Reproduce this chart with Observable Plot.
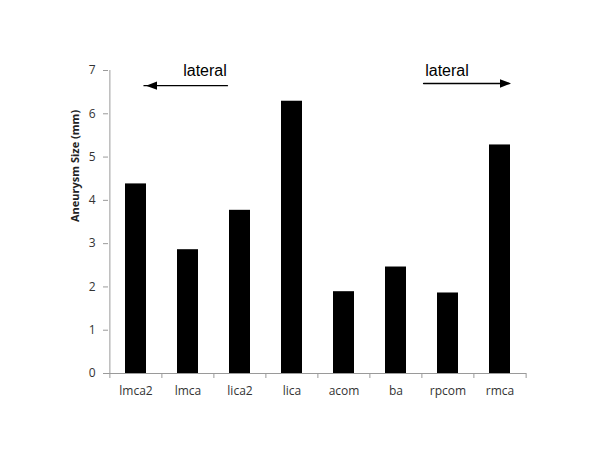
<!DOCTYPE html>
<html>
<head>
<meta charset="utf-8">
<script src="https://cdn.jsdelivr.net/npm/d3@7"></script>
<script src="https://cdn.jsdelivr.net/npm/@observablehq/plot@0.6"></script>
<style>
  html, body { margin: 0; padding: 0; background: #fff; }
  #chart svg { display: block; }
</style>
</head>
<body>
<div id="chart"></div>
<script>
const categories = ["lmca2", "lmca", "lica2", "lica", "acom", "ba", "rpcom", "rmca"];
const sizes = [4.38, 2.86, 3.77, 6.29, 1.89, 2.46, 1.86, 5.28];
const yTicks = [0, 1, 2, 3, 4, 5, 6, 7];
const yTitle = "Aneurysm Size (mm)";
const arrowLabels = ["lateral", "lateral"];
const arrowFrom = ["lica2", "ba"];
const arrowTo = ["lmca2", "rmca"];
const labelAt = ["lmca", "rpcom"];
const arrowLevel = [6.65, 6.70];
const labelLevel = 6.98;

const data = categories.map((c, i) => ({cat: c, size: sizes[i]}));
const arrows = arrowFrom.map((f, i) => ({from: f, to: arrowTo[i], y: arrowLevel[i], label: arrowLabels[i], at: labelAt[i]}));

const W = 600, H = 467, ML = 108, MR = 74, MT = 70, MB = 94;
const step = (W - ML - MR) / categories.length;
const pxPerUnit = (H - MT - MB) / 7;
const tickLen = 5 / pxPerUnit;
const axisColor = "#9a9a9a";

const head = {
  draw(ctx, l) {
    ctx.moveTo(0, -l);
    ctx.lineTo(-4.2, 0);
    ctx.lineTo(4.2, 0);
    ctx.closePath();
  }
};

const chart = Plot.plot({
  width: W, height: H,
  marginLeft: ML, marginRight: MR, marginTop: MT, marginBottom: MB,
  style: {fontFamily: "'Open Sans', sans-serif", fontSize: "12px", color: "#333", background: "#fff"},
  x: {domain: categories, paddingInner: 0.6, paddingOuter: 0.3, label: null},
  y: {domain: [0, 7], label: null},
  marks: [
    Plot.barY(data, {x: "cat", y: "size", fill: "black"}),
    // y-axis line
    Plot.ruleX([categories[0]], {x: d => d, y1: 0, y2: 7, dx: -step / 2, stroke: axisColor}),
    // x-axis line
    Plot.ruleY([0], {stroke: axisColor}),
    // x ticks at band boundaries
    Plot.ruleX(categories, {x: d => d, y1: 0, y2: -tickLen, dx: -step / 2, stroke: axisColor}),
    Plot.ruleX([categories[categories.length - 1]], {x: d => d, y1: 0, y2: -tickLen, dx: step / 2, stroke: axisColor}),
    Plot.axisY({ticks: yTicks, tickSize: 5, tickPadding: 8, stroke: axisColor, label: null, tickFormat: d3.format("d"), fill: "#333", fontSize: 12}),
    Plot.axisX({tickSize: 0, tickPadding: 13, label: null, fill: "#333", fontSize: 12}),
    Plot.text([yTitle], {frameAnchor: "left", rotate: -90, dx: -33, fontWeight: "bold", fontSize: 11, fill: "#222"}),
    // left arrow
    Plot.arrow([arrows[0]], {x1: "from", x2: "to", y1: "y", y2: "y", headLength: 0, insetStart: 12.6, insetEnd: 8, strokeWidth: 1.4, stroke: "black"}),
    Plot.vector([arrows[0]], {x: "to", y: "y", dx: 10, rotate: -90, length: 11, anchor: "end", shape: head, fill: "black", stroke: "none"}),
    Plot.text([arrows[0]], {x: "at", y: () => labelLevel, text: "label", dx: 17, fontFamily: "'Liberation Sans', Arial, sans-serif", fontSize: 16, fill: "black"}),
    // right arrow
    Plot.arrow([arrows[1]], {x1: "from", x2: "to", y1: "y", y2: "y", dx: 11, headLength: 0, insetStart: 16.6, insetEnd: 2, strokeWidth: 1.4, stroke: "black"}),
    Plot.vector([arrows[1]], {x: "to", y: "y", dx: 11, rotate: 90, length: 11, anchor: "end", shape: head, fill: "black", stroke: "none"}),
    Plot.text([arrows[1]], {x: "at", y: () => labelLevel, text: "label", dx: -1, fontFamily: "'Liberation Sans', Arial, sans-serif", fontSize: 16, fill: "black"})
  ]
});
document.getElementById("chart").appendChild(chart);
</script>
</body>
</html>
